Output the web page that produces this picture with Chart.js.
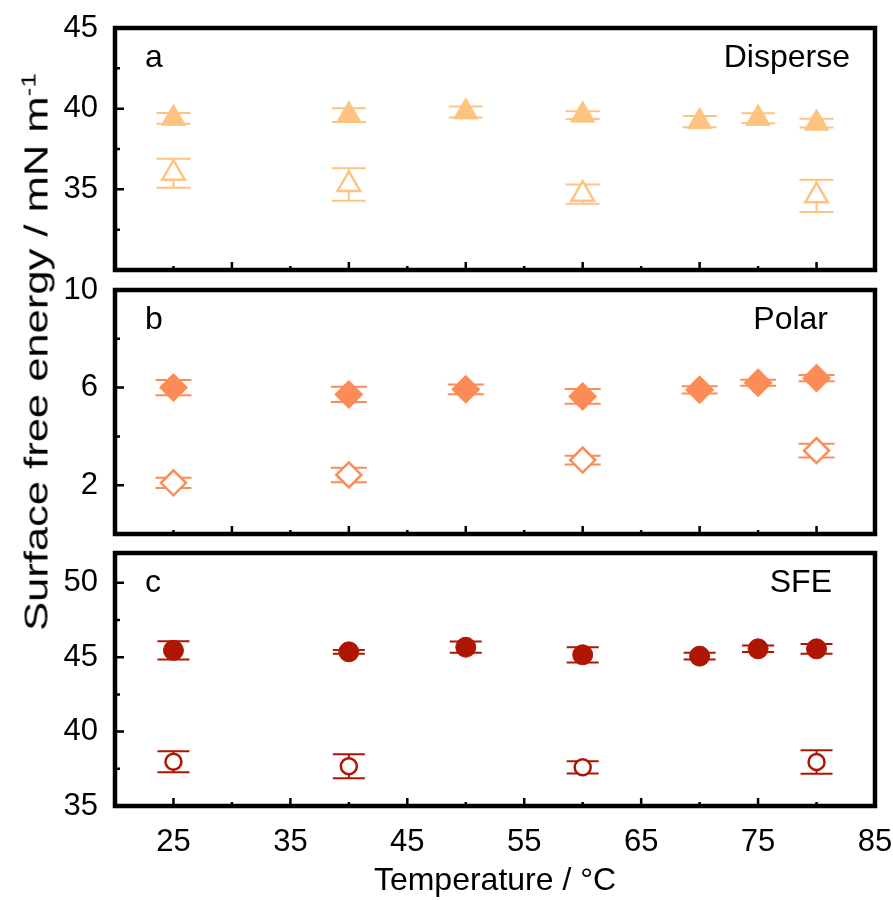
<!DOCTYPE html>
<html lang="en">
<head>
<meta charset="UTF-8">
<title>Surface free energy vs temperature</title>
<style>
  body { margin: 0; background: #fff; font-family: 'Liberation Sans', Arial, sans-serif; }
  #wrap { position: relative; width: 893px; height: 900px; overflow: hidden; }
  #wrap canvas { position: absolute; left: 0; }
  #ytitle { position: absolute; left: 36px; top: 352px; transform: translate(-50%, -50%) rotate(-90deg) scaleX(1.28); white-space: nowrap; font-size: 34px; color: #000; }
  #ytitle sup { font-size: 0.6em; }
</style>
</head>
<body>
<div id="wrap">
  <canvas id="chartA" width="893" height="300" style="top:0"></canvas>
  <canvas id="chartB" width="893" height="300" style="top:262px"></canvas>
  <canvas id="chartC" width="930" height="375" style="top:525px"></canvas>
  <div id="ytitle">Surface free energy / mN m<sup>-1</sup></div>
</div>
<script src="https://cdn.jsdelivr.net/npm/chart.js"></script>
<script>
const temps = [25, 40, 50, 60, 70, 75, 80];
const tempsOpen = [25, 40, 60, 80];

const dispFilled = [39.4, 39.6, 39.8, 39.6, 39.2, 39.4, 39.1];
const dispFilledErr = [0.33, 0.42, 0.34, 0.24, 0.35, 0.31, 0.27];
const dispOpen = [36.0, 35.3, 34.7, 34.6];
const dispOpenErr = [0.9, 1.0, 0.6, 1.0];

const polarFilled = [6.0, 5.72, 5.93, 5.64, 5.91, 6.2, 6.39];
const polarFilledErr = [0.31, 0.31, 0.2, 0.3, 0.15, 0.12, 0.13];
const polarOpen = [2.1, 2.42, 3.03, 3.42];
const polarOpenErr = [0.21, 0.3, 0.18, 0.28];

const sfeFilled = [45.46, 45.36, 45.67, 45.16, 45.07, 45.56, 45.56];
const sfeFilledErr = [0.61, 0.13, 0.38, 0.51, 0.22, 0.22, 0.33];
const sfeOpen = [37.97, 37.67, 37.6, 37.96];
const sfeOpenErr = [0.71, 0.81, 0.41, 0.79];

const panelLetters = ['a', 'b', 'c'];
const panelNames = ['Disperse', 'Polar', 'SFE'];
const xTitle = 'Temperature / \u00b0C';

const FONT = "'Liberation Sans', Arial, sans-serif";
const colDisp = '#FEC47F';
const colPolar = '#FB8C57';
const colSfe = '#AF1602';

function pts(xs, ys) {
  return xs.map((x, i) => ({ x: x, y: ys[i] }));
}

// error bars under the markers, frame + inward ticks + panel labels on top
const panelDeco = {
  id: 'panelDeco',
  beforeDatasetsDraw(chart) {
    const ctx = chart.ctx;
    const xs = chart.scales.x, ys = chart.scales.y;
    chart.data.datasets.forEach(ds => {
      if (!ds.errors) return;
      ctx.save();
      ctx.strokeStyle = ds.borderColor;
      ctx.lineWidth = 2;
      ds.data.forEach((p, i) => {
        const e = ds.errors[i];
        const px = xs.getPixelForValue(p.x);
        const top = ys.getPixelForValue(p.y + e);
        const bot = ys.getPixelForValue(p.y - e);
        const hw = ds.capHalf || 17;
        ctx.beginPath();
        ctx.moveTo(px, top); ctx.lineTo(px, bot);
        ctx.moveTo(px - hw, top); ctx.lineTo(px + hw, top);
        ctx.moveTo(px - hw, bot); ctx.lineTo(px + hw, bot);
        ctx.stroke();
      });
      ctx.restore();
    });
  },
  afterDraw(chart, args, opts) {
    const ctx = chart.ctx;
    const a = chart.chartArea;
    const xs = chart.scales.x, ys = chart.scales.y;
    ctx.save();
    ctx.strokeStyle = '#000';
    ctx.lineWidth = 2.5;
    ctx.beginPath();
    xs.ticks.forEach(t => {
      const v = t.value;
      if (v <= xs.min || v >= xs.max) return;
      const px = xs.getPixelForValue(v);
      const len = opts.xMajor(v) ? 8 : 4;
      ctx.moveTo(px, a.bottom); ctx.lineTo(px, a.bottom - len);
    });
    ys.ticks.forEach(t => {
      const v = t.value;
      if (v <= ys.min || v >= ys.max) return;
      const py = ys.getPixelForValue(v);
      const len = opts.yMajor(v) ? 9 : 5;
      ctx.moveTo(a.left, py); ctx.lineTo(a.left + len, py);
    });
    ctx.stroke();
    ctx.lineWidth = 4.5;
    ctx.strokeRect(a.left, a.top, a.right - a.left, a.bottom - a.top);

    ctx.fillStyle = '#000';
    ctx.font = '32px ' + FONT;
    ctx.textBaseline = 'alphabetic';
    ctx.textAlign = 'left';
    ctx.fillText(opts.letter, a.left + 30, a.top + 39);
    ctx.textAlign = 'right';
    ctx.fillText(opts.name, a.right - opts.nameInset, a.top + 39);
    ctx.restore();
  }
};

function makeChart(id, cfg) {
  const isBottom = !!cfg.bottom;
  return new Chart(document.getElementById(id), {
    type: 'scatter',
    data: { datasets: cfg.datasets },
    plugins: [panelDeco],
    options: {
      responsive: false,
      animation: false,
      layout: { padding: { top: 28, right: cfg.padRight, bottom: cfg.padBottom, left: 0 } },
      plugins: {
        legend: { display: false },
        tooltip: { enabled: false },
        panelDeco: {
          letter: cfg.letter, name: cfg.name, nameInset: cfg.nameInset,
          xMajor: cfg.xMajor, yMajor: cfg.yMajor
        }
      },
      scales: {
        x: {
          type: 'linear', min: 20, max: 85,
          grid: { display: false }, border: { display: false },
          ticks: {
            display: isBottom, stepSize: 5, autoSkip: false, maxRotation: 0,
            padding: 10, color: '#000', font: { family: FONT, size: 31 },
            callback: v => (v % 10 === 5 ? String(v) : '')
          },
          title: {
            display: isBottom, text: xTitle, color: '#000',
            font: { family: FONT, size: 32 }, padding: { top: 0, bottom: 0 }
          },
          afterFit: s => { if (isBottom) s.height = 94; }
        },
        y: {
          min: cfg.yMin, max: cfg.yMax,
          grid: { display: false }, border: { display: false },
          ticks: {
            stepSize: cfg.yStep, autoSkip: false, includeBounds: false, padding: 9, color: '#000',
            font: { family: FONT, size: 31 },
            callback: v => (cfg.yLabel(v) ? String(v) : '')
          },
          afterFit: s => { s.width = 115; }
        }
      }
    }
  });
}

function filledSet(xs, ys, err, col, style, r, cap) {
  return { data: pts(xs, ys), errors: err, capHalf: cap, pointStyle: style, pointRadius: r,
    backgroundColor: col, borderColor: col, borderWidth: 1, showLine: false };
}
function openSet(xs, ys, err, col, style, r, cap) {
  return { data: pts(xs, ys), errors: err, capHalf: cap, pointStyle: style, pointRadius: r,
    backgroundColor: '#fff', borderColor: col, borderWidth: 2.5, showLine: false };
}

makeChart('chartA', {
  letter: panelLetters[0], name: panelNames[0], nameInset: 25,
  yMin: 30, yMax: 45, yStep: 2.5, padBottom: 22, padRight: 18,
  yLabel: v => v % 5 === 0 && v !== 30,
  yMajor: v => v % 5 === 0,
  xMajor: v => v % 10 === 0,
  datasets: [
    filledSet(temps, dispFilled, dispFilledErr, colDisp, 'triangle', 14, 17),
    openSet(tempsOpen, dispOpen, dispOpenErr, colDisp, 'triangle', 13, 17)
  ]
});

makeChart('chartB', {
  letter: panelLetters[1], name: panelNames[1], nameInset: 47,
  yMin: 0, yMax: 10, yStep: 2, padBottom: 20, padRight: 18,
  yLabel: v => (v - 2) % 4 === 0,
  yMajor: v => (v - 2) % 4 === 0,
  xMajor: v => v % 10 === 0,
  datasets: [
    filledSet(temps, polarFilled, polarFilledErr, colPolar, 'rectRot', 14, 18),
    openSet(tempsOpen, polarOpen, polarOpenErr, colPolar, 'rectRot', 12.5, 18)
  ]
});

makeChart('chartC', {
  bottom: true,
  letter: panelLetters[2], name: panelNames[2], nameInset: 43,
  yMin: 35, yMax: 52, yStep: 2.5, padBottom: 0, padRight: 55,
  yLabel: v => v % 5 === 0,
  yMajor: v => v % 5 === 0,
  xMajor: v => v % 10 === 5,
  datasets: [
    filledSet(temps, sfeFilled, sfeFilledErr, colSfe, 'circle', 10, 16),
    openSet(tempsOpen, sfeOpen, sfeOpenErr, colSfe, 'circle', 8, 16)
  ]
});
</script>
</body>
</html>
